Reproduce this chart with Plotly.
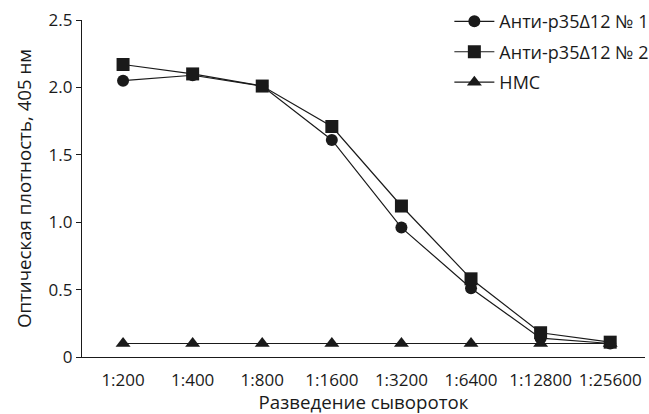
import plotly.graph_objects as go

categories = ["1:200", "1:400", "1:800", "1:1600", "1:3200", "1:6400", "1:12800", "1:25600"]
anti1 = [2.05, 2.09, 2.01, 1.61, 0.96, 0.51, 0.14, 0.10]
anti2 = [2.17, 2.10, 2.01, 1.71, 1.12, 0.58, 0.18, 0.11]
nms = [0.10, 0.10, 0.10, 0.10, 0.10, 0.10, 0.10, 0.10]
names = ["Анти-p35Δ12 № 1", "Анти-p35Δ12 № 2", "НМС"]
symbols = ["circle", "square", "triangle-up"]
sizes = [12, 13, 13]

xs = list(range(len(categories)))
fig = go.Figure()
for i, (vals, nm, sym, sz) in enumerate(zip([anti1, anti2, nms], names, symbols, sizes)):
    fig.add_trace(go.Scatter(
        x=xs, y=vals, name=nm, mode="lines+markers", legendgroup=f"g{i}",
        line=dict(color="#1a1a1a", width=1.2),
        marker=dict(symbol=sym, size=sz, color="#1a1a1a"),
    ))

font = "Open Sans, Lato, sans-serif"
fig.update_layout(
    width=649, height=414,
    margin=dict(l=82, r=4, t=20, b=57, autoexpand=False),
    plot_bgcolor="white", paper_bgcolor="white",
    font=dict(family=font, size=17, color="#1a1a1a"),
    showlegend=True,
    legend=dict(x=0.6525, y=1.05, xanchor="left", yanchor="top",
                bgcolor="rgba(0,0,0,0)", font=dict(size=18),
                tracegroupgap=4, itemwidth=40),
    xaxis=dict(
        range=[-0.59, 7.5], tickvals=xs, ticktext=categories,
        showline=True, linecolor="#1a1a1a", linewidth=1.2,
        ticks="outside", ticklen=7, tickcolor="rgba(0,0,0,0)",
        showgrid=False, zeroline=False, automargin=False,
        tickfont=dict(size=17),
        title=dict(text="Разведение сывороток", standoff=14, font=dict(size=18.7)),
    ),
    yaxis=dict(
        range=[0, 2.5], tickvals=[0, 0.5, 1.0, 1.5, 2.0, 2.5],
        ticktext=["0", "0.5", "1.0", "1.5", "2.0", "2.5"],
        showline=True, linecolor="#1a1a1a", linewidth=1.2,
        ticks="outside", ticklen=5, tickcolor="#1a1a1a",
        showgrid=False, zeroline=False, automargin=False,
        tickfont=dict(size=17),
        title=dict(text="Оптическая плотность, 405 нм", standoff=12, font=dict(size=18.7)),
    ),
)
fig.write_html("out.html", config={"displayModeBar": False},
               post_script="document.body.style.margin='0';document.body.style.overflow='hidden';")
